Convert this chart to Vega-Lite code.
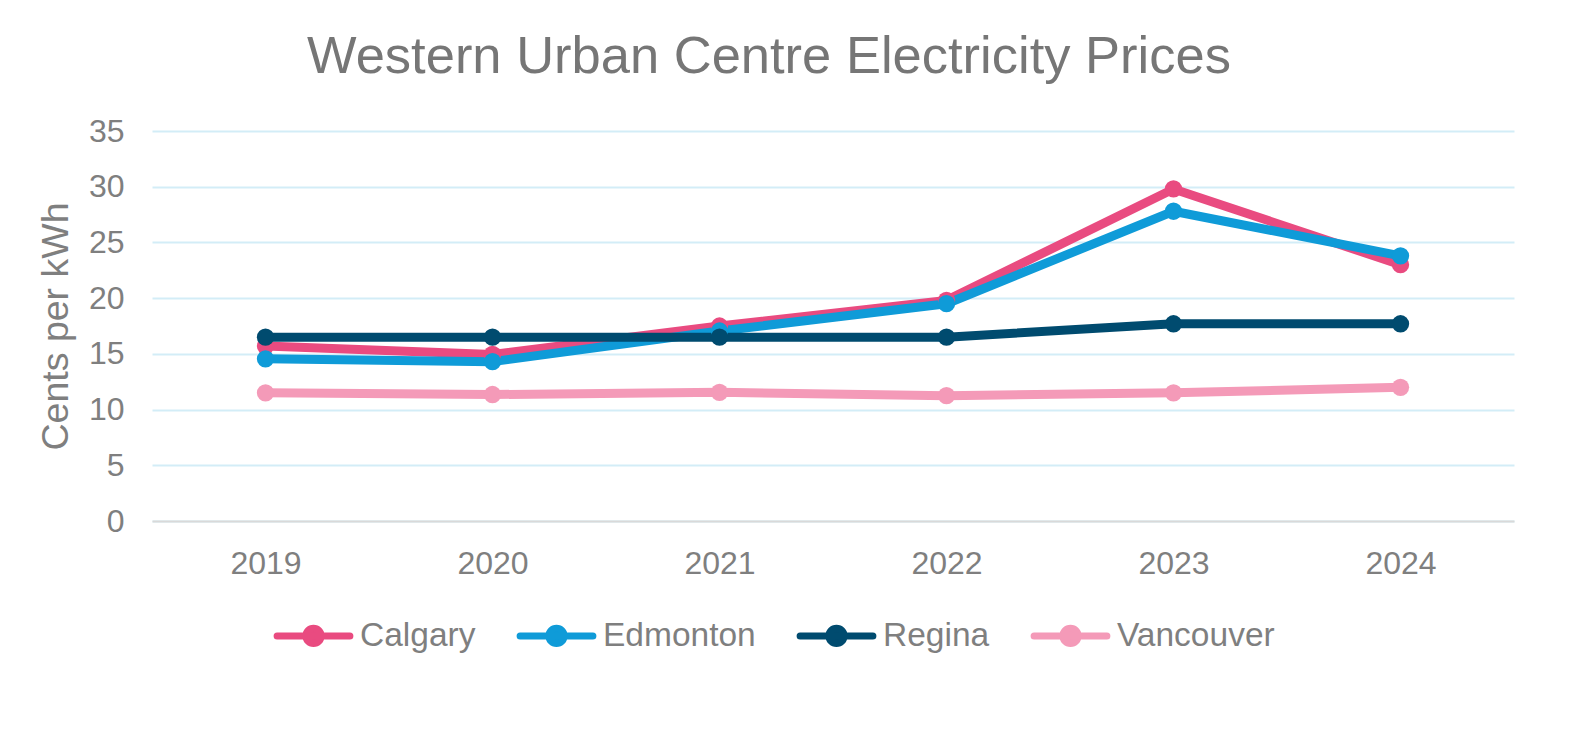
{
  "$schema": "https://vega.github.io/schema/vega-lite/v6.json",
  "width": 1362,
  "height": 390,
  "autosize": "none",
  "padding": {"left": 152, "top": 131, "right": 55, "bottom": 220},
  "background": "white",
  "config": {"view": {"stroke": null}, "font": "Liberation Sans"},
  "title": {
    "text": "Western Urban Centre Electricity Prices",
    "fontSize": 52.5,
    "fontWeight": "normal",
    "color": "#767676",
    "font": "Liberation Sans",
    "anchor": "middle",
    "frame": "group",
    "baseline": "alphabetic",
    "dx": -64,
    "dy": 66,
    "offset": 56
  },
  "data": {"values": [
    {"year": "2019", "city": "Calgary", "price": 15.7},
    {"year": "2020", "city": "Calgary", "price": 14.95},
    {"year": "2021", "city": "Calgary", "price": 17.5},
    {"year": "2022", "city": "Calgary", "price": 19.8},
    {"year": "2023", "city": "Calgary", "price": 29.8},
    {"year": "2024", "city": "Calgary", "price": 23.0},
    {"year": "2019", "city": "Edmonton", "price": 14.55},
    {"year": "2020", "city": "Edmonton", "price": 14.3},
    {"year": "2021", "city": "Edmonton", "price": 17.05},
    {"year": "2022", "city": "Edmonton", "price": 19.5},
    {"year": "2023", "city": "Edmonton", "price": 27.8},
    {"year": "2024", "city": "Edmonton", "price": 23.8},
    {"year": "2019", "city": "Regina", "price": 16.5},
    {"year": "2020", "city": "Regina", "price": 16.5},
    {"year": "2021", "city": "Regina", "price": 16.5},
    {"year": "2022", "city": "Regina", "price": 16.5},
    {"year": "2023", "city": "Regina", "price": 17.7},
    {"year": "2024", "city": "Regina", "price": 17.7},
    {"year": "2019", "city": "Vancouver", "price": 11.5},
    {"year": "2020", "city": "Vancouver", "price": 11.35},
    {"year": "2021", "city": "Vancouver", "price": 11.55},
    {"year": "2022", "city": "Vancouver", "price": 11.25},
    {"year": "2023", "city": "Vancouver", "price": 11.5},
    {"year": "2024", "city": "Vancouver", "price": 12.0}
  ]},
  "mark": {"type": "line", "strokeWidth": 9, "strokeJoin": "round", "point": {"filled": true, "size": 300, "opacity": 1}},
  "encoding": {
    "x": {
      "field": "year", "type": "ordinal",
      "scale": {"type": "point", "padding": 0.5},
      "axis": {
        "title": null, "labelAngle": 0, "labelFontSize": 32, "labelColor": "#7f7f7f",
        "labelFont": "Liberation Sans", "labelPadding": 27, "ticks": false,
        "domainColor": "#d9d9d9", "domainWidth": 2, "grid": false
      }
    },
    "y": {
      "field": "price", "type": "quantitative",
      "scale": {"domain": [0, 35], "nice": false},
      "axis": {
        "title": "Cents per kWh", "titleFontSize": 37.5, "titleFontWeight": "normal", "titleColor": "#7f7f7f",
        "titleFont": "Liberation Sans", "titlePadding": 13,
        "values": [0, 5, 10, 15, 20, 25, 30, 35],
        "labelFontSize": 32, "labelColor": "#7f7f7f", "labelFont": "Liberation Sans", "labelPadding": 28,
        "ticks": false, "domain": false, "gridColor": "#d3edf7", "gridWidth": 2
      }
    },
    "color": {
      "field": "city", "type": "nominal",
      "scale": {"domain": ["Calgary", "Edmonton", "Regina", "Vancouver"], "range": ["#e94b80", "#0f9bd8", "#004b6f", "#f49ab8"]},
      "legend": {
        "title": null, "orient": "none", "direction": "horizontal", "legendX": 118, "legendY": 461,
        "symbolType": "M-0.91,0L0.91,0M-0.19,0A0.19,0.19,0,1,0,0.19,0A0.19,0.19,0,1,0,-0.19,0Z",
        "symbolSize": 6400, "symbolStrokeWidth": 7, "labelFontSize": 33.5, "labelColor": "#7f7f7f",
        "labelFont": "Liberation Sans", "labelOffset": 3, "columnPadding": 30,
        "encode": {"symbols": {"update": {
          "fill": {"scale": "color", "field": "value"},
          "stroke": {"scale": "color", "field": "value"},
          "strokeCap": {"value": "round"},
          "fillOpacity": {"value": 1},
          "opacity": {"value": 1}
        }}}
      }
    }
  }
}
